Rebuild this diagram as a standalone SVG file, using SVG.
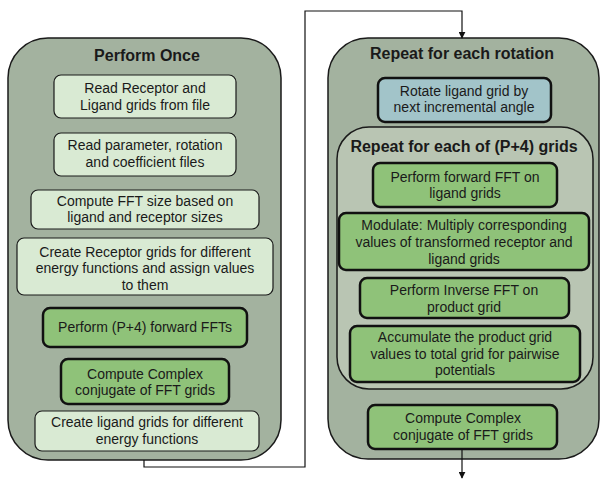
<svg xmlns="http://www.w3.org/2000/svg" width="600" height="479" viewBox="0 0 600 479">
  <defs>
    <marker id="arrow" viewBox="0 0 10 10" refX="9" refY="5" markerWidth="7" markerHeight="7" orient="auto" markerUnits="userSpaceOnUse">
      <path d="M0,0 L10,5 L0,10 z" fill="#111"/>
    </marker>
    <style>
      .outer { fill: #a3b29f; stroke: #1a1a1a; stroke-width: 1.5; }
      .inner { fill: #b9c5b3; stroke: #1a1a1a; stroke-width: 1.5; }
      .light { fill: #d9ead3; stroke: #1a1a1a; stroke-width: 1.2; }
      .dark { fill: #8fc279; stroke: #111; stroke-width: 2.5; }
      .blue { fill: #a2c4c9; stroke: #111; stroke-width: 2.5; }
      text { font-family: "Liberation Sans", Arial, sans-serif; font-size: 14px; fill: #1a1a1a; text-anchor: middle; }
      .title { font-weight: bold; font-size: 16px; }
      .wire { fill: none; stroke: #111; stroke-width: 1.2; }
    </style>
  </defs>

  <!-- Perform Once container -->
  <g id="perform-once">
    <rect class="outer" x="8" y="38" width="273" height="422" rx="40"/>
    <text class="title" x="147" y="61">Perform Once</text>
  </g>
  <g id="read-grids">
    <rect class="light" x="54" y="75" width="182" height="43" rx="7"/>
    <text x="145" y="93">Read Receptor and</text>
    <text x="145" y="109.5">Ligand grids from file</text>
  </g>
  <g id="read-params">
    <rect class="light" x="54" y="133" width="182" height="43" rx="7"/>
    <text x="145" y="150">Read parameter, rotation</text>
    <text x="145" y="166.5">and coefficient files</text>
  </g>
  <g id="fft-size">
    <rect class="light" x="31" y="190" width="228" height="39" rx="7"/>
    <text x="145" y="205.5">Compute FFT size based on</text>
    <text x="145" y="222">ligand and receptor sizes</text>
  </g>
  <g id="receptor-grids">
    <rect class="light" x="17" y="238" width="256" height="57" rx="7"/>
    <text x="145" y="256.5">Create Receptor grids for different</text>
    <text x="145" y="273">energy functions and assign values</text>
    <text x="145" y="289.5">to them</text>
  </g>
  <g id="forward-ffts">
    <rect class="dark" x="43" y="308" width="204" height="39" rx="7"/>
    <text x="145" y="332">Perform (P+4) forward FFTs</text>
  </g>
  <g id="conjugate-once">
    <rect class="dark" x="61" y="359" width="168" height="45" rx="7"/>
    <text x="145" y="378.5">Compute Complex</text>
    <text x="145" y="395">conjugate of FFT grids</text>
  </g>
  <g id="ligand-grids">
    <rect class="light" x="35" y="411" width="224" height="40" rx="7"/>
    <text x="147" y="427">Create ligand grids for different</text>
    <text x="147" y="444">energy functions</text>
  </g>

  <!-- Repeat for each rotation container -->
  <g id="rotation-loop">
    <rect class="outer" x="328" y="38" width="271" height="421" rx="40"/>
    <text class="title" x="462" y="59">Repeat for each rotation</text>
  </g>
  <g id="rotate-ligand">
    <rect class="blue" x="378" y="78" width="173" height="44" rx="7"/>
    <text x="464" y="95.5">Rotate ligand grid by</text>
    <text x="464" y="112">next incremental angle</text>
  </g>
  <g id="grid-loop">
    <rect class="inner" x="337" y="127" width="256" height="262" rx="32"/>
    <text class="title" x="464" y="152">Repeat for each of (P+4) grids</text>
  </g>
  <g id="forward-fft-ligand">
    <rect class="dark" x="373" y="163" width="184" height="44" rx="7"/>
    <text x="465" y="181.5">Perform forward FFT on</text>
    <text x="465" y="198">ligand grids</text>
  </g>
  <g id="modulate">
    <rect class="dark" x="339" y="213" width="250" height="57" rx="7"/>
    <text x="464" y="230">Modulate: Multiply corresponding</text>
    <text x="464" y="247">values of transformed receptor and</text>
    <text x="464" y="264">ligand grids</text>
  </g>
  <g id="inverse-fft">
    <rect class="dark" x="360" y="278" width="209" height="40" rx="7"/>
    <text x="464" y="294.5">Perform Inverse FFT on</text>
    <text x="464" y="311.5">product grid</text>
  </g>
  <g id="accumulate">
    <rect class="dark" x="350" y="326" width="230" height="56" rx="7"/>
    <text x="465" y="342">Accumulate the product grid</text>
    <text x="465" y="358.5">values to total grid for pairwise</text>
    <text x="465" y="375">potentials</text>
  </g>
  <g id="conjugate-rotation">
    <rect class="dark" x="368" y="405" width="189" height="44" rx="7"/>
    <text x="463" y="423">Compute Complex</text>
    <text x="463" y="440">conjugate of FFT grids</text>
  </g>

  <!-- Connectors -->
  <g id="connectors">
    <path class="wire" d="M144,460 V467 H305 V11 H462 V38" marker-end="url(#arrow)"/>
    <path class="wire" d="M462,449 V478" marker-end="url(#arrow)"/>
  </g>
</svg>
